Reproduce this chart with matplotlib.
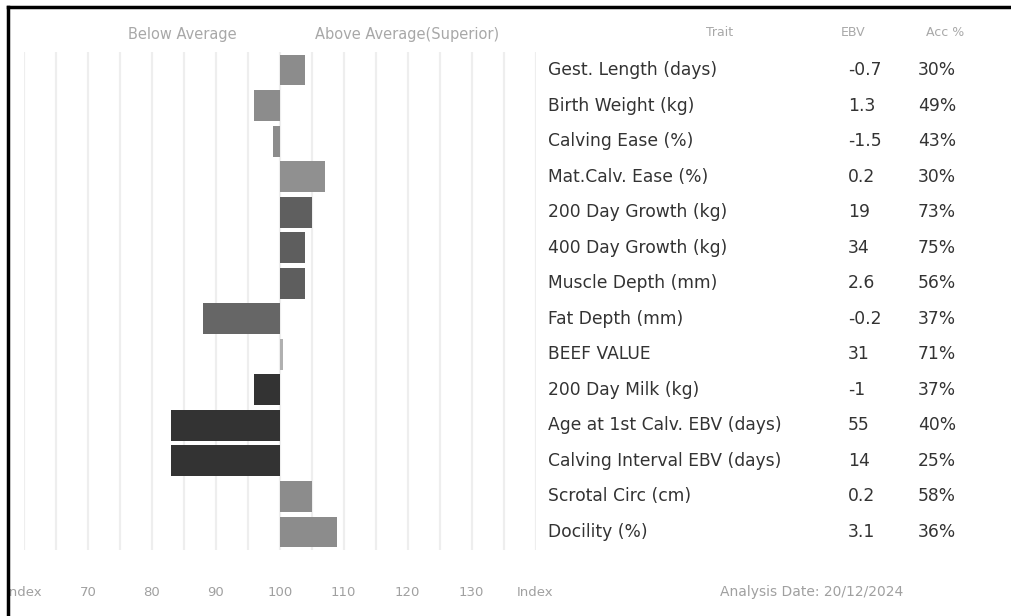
import matplotlib.pyplot as plt
from matplotlib.lines import Line2D
from matplotlib.transforms import blended_transform_factory

# data
traits = ["Gest. Length (days)", "Birth Weight (kg)", "Calving Ease (%)",
          "Mat.Calv. Ease (%)", "200 Day Growth (kg)", "400 Day Growth (kg)",
          "Muscle Depth (mm)", "Fat Depth (mm)", "BEEF VALUE", "200 Day Milk (kg)",
          "Age at 1st Calv. EBV (days)", "Calving Interval EBV (days)",
          "Scrotal Circ (cm)", "Docility (%)"]
ebv = ["-0.7", "1.3", "-1.5", "0.2", "19", "34", "2.6", "-0.2", "31", "-1",
       "55", "14", "0.2", "3.1"]
acc = ["30%", "49%", "43%", "30%", "73%", "75%", "56%", "37%", "71%", "37%",
       "40%", "25%", "58%", "36%"]
index_vals = [104, 96, 99, 107, 105, 104, 104, 88, 100.5, 96, 83, 83, 105, 109]
bar_colors = ["#8c8c8c", "#8c8c8c", "#8c8c8c", "#909090", "#5f5f5f", "#5e5e5e",
              "#5e5e5e", "#666666", "#b0b0b0", "#333333", "#333333", "#333333",
              "#8c8c8c", "#8c8c8c"]
tick_pos = [60, 70, 80, 90, 100, 110, 120, 130, 140]
tick_labels = ["Index", "70", "80", "90", "100", "110", "120", "130", "Index"]

W, H = 1011, 616
fig = plt.figure(figsize=(W / 100, H / 100), dpi=100)
ax = fig.add_axes([24 / W, 1 - 549.8 / H, (535.5 - 24) / W, (549.8 - 52.2) / H])

# grid
for g in range(60, 141, 5):
    ax.axvline(g, color="#eeeeee", lw=1.6, zorder=0)

rows = list(range(len(traits)))
lefts = [min(v, 100) for v in index_vals]
widths = [abs(v - 100) for v in index_vals]
ax.barh(rows, widths, left=lefts, height=0.87, color=bar_colors, zorder=2)

ax.set_xlim(60, 140)
ax.set_ylim(len(traits) - 0.5, -0.5)
for s in ax.spines.values():
    s.set_visible(False)
ax.set_yticks([])
ax.set_xticks(tick_pos)
ax.set_xticklabels(tick_labels, color="#a0a0a0", fontsize=9.5, family="DejaVu Sans")
ax.tick_params(axis="x", length=0, pad=26)

# header over bars
hdr = blended_transform_factory(ax.transData, fig.transFigure)
ax.text(84.7, 1 - 34 / H, "Below Average", transform=hdr, ha="center", va="center",
        color="#a8a8a8", fontsize=10.5, family="DejaVu Sans")
ax.text(119.9, 1 - 34 / H, "Above Average(Superior)", transform=hdr, ha="center",
        va="center", color="#a8a8a8", fontsize=10.5, family="DejaVu Sans")

# table
tf = blended_transform_factory(fig.transFigure, ax.transData)
tfont = dict(family="DejaVu Sans", color="#333333", fontsize=12.3,
             va="center", transform=tf)
for i in rows:
    ax.text(548 / W, i, traits[i], ha="left", **tfont)
    ax.text(848 / W, i, ebv[i], ha="left", **tfont)
    ax.text(918 / W, i, acc[i], ha="left", **tfont)

hfont = dict(color="#a8a8a8", fontsize=9, family="DejaVu Sans",
             va="center", ha="center")
fig.text(720 / W, 1 - 32 / H, "Trait", **hfont)
fig.text(853 / W, 1 - 32 / H, "EBV", **hfont)
fig.text(945 / W, 1 - 32 / H, "Acc %", **hfont)

fig.text(812 / W, 1 - 592 / H, "Analysis Date: 20/12/2024", ha="center", va="center",
         color="#a0a0a0", fontsize=10, family="DejaVu Sans")

# frame
fig.add_artist(Line2D([8 / W, 1], [1 - 7 / H, 1 - 7 / H], color="black", lw=2.5))
fig.add_artist(Line2D([8 / W, 8 / W], [0, 1 - 7 / H], color="black", lw=2.5))

fig.savefig("out.png", dpi=100)
